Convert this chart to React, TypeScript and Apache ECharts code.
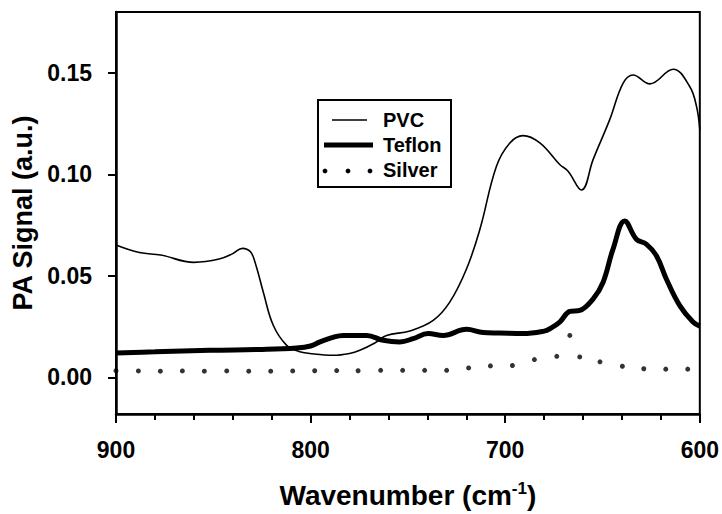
import React, { useEffect, useRef } from "react";
import * as echarts from "echarts";

const FONT = 'Arial, "Liberation Sans", sans-serif';

// Y axis tick labels
const yTicks = [0, 0.05, 0.1, 0.15];

const pvcWavenumber = [
  900, 888, 877, 860, 847, 840, 835, 831, 828.6, 824.3, 819.2, 812.3, 806, 800.4,
  788.4, 780, 774.7, 767, 761, 749, 737, 728.5, 719.9, 713, 704.5, 697.6, 690.8,
  682.2, 672, 667.7, 660.8, 654.8, 646.3, 639.4, 634.3, 625.7, 613.7, 605.2, 601.7, 600,
];
const pvcSignal = [
  0.0652, 0.0615, 0.0603, 0.0567, 0.0583, 0.061, 0.0636, 0.062, 0.0569, 0.042, 0.0257,
  0.0158, 0.0128, 0.0118, 0.0109, 0.0118, 0.0134, 0.017, 0.0207, 0.0229, 0.0281, 0.0371,
  0.0534, 0.073, 0.104, 0.1155, 0.1191, 0.1155, 0.1049, 0.1016, 0.0923, 0.1074, 0.127,
  0.145, 0.149, 0.1446, 0.1518, 0.1433, 0.1335, 0.122,
];

const teflonWavenumber = [
  900, 880, 851.7, 825, 807.2, 800, 795.2, 789, 783.3, 771.2, 762.7, 754.1, 747.3,
  739.6, 731.9, 719.9, 711.3, 702.8, 690.8, 680, 677, 672, 666.8, 661.7, 654.8, 649.7,
  644.6, 638.6, 632.6, 627.5, 622.3, 617.2, 610.3, 603.5, 600,
];
const teflonSignal = [
  0.0121, 0.0126, 0.0134, 0.0138, 0.0145, 0.0155, 0.0175, 0.0196, 0.0207, 0.0207,
  0.0183, 0.0175, 0.0191, 0.0216, 0.0207, 0.0237, 0.0221, 0.0219, 0.0216, 0.0228,
  0.024, 0.0273, 0.0325, 0.033, 0.0387, 0.0469, 0.0632, 0.0771, 0.0681, 0.0657, 0.06,
  0.0485, 0.0354, 0.0273, 0.0253,
];

const silverWavenumber = [
  900, 888.5, 877.2, 865.9, 854.6, 843.1, 831.8, 820.5, 809.2, 797.9, 786.6, 775.6,
  764.0, 752.7, 741.4, 730.1, 718.8, 707.6, 696.3, 685.0, 673.5, 666.8, 661.7, 651.3,
  639.8, 628.8, 617.5, 606.2,
];
const silverSignal = [
  0.0033, 0.0032, 0.0031, 0.0032, 0.0031, 0.0032, 0.0031, 0.0031, 0.0032, 0.0033,
  0.0034, 0.0033, 0.0035, 0.0035, 0.0035, 0.0035, 0.0047, 0.0057, 0.0059, 0.0088,
  0.0104, 0.0207, 0.0101, 0.0077, 0.0055, 0.0043, 0.0041, 0.0041,
];

const seriesNames = ["PVC", "Teflon", "Silver"];

const zip = (xs: number[], ys: number[]) => xs.map((x, i) => [x, ys[i]]);

export default function App() {
  const ref = useRef<HTMLDivElement>(null);
  useEffect(() => {
    if (!ref.current) return;
    const chart = echarts.init(ref.current, null, { renderer: "svg" });
    const labelStyle = { color: "#000", fontFamily: FONT, fontWeight: "bold" as const };
    chart.setOption({
      animation: false,
      backgroundColor: "#fff",
      grid: {
        left: 116,
        right: 22,
        top: 12,
        bottom: 98,
        show: true,
        borderColor: "#000",
        borderWidth: 2,
        backgroundColor: "transparent",
      },
      xAxis: {
        type: "value",
        inverse: true,
        min: 600,
        max: 900,
        interval: 100,
        axisLine: { show: true, onZero: false, lineStyle: { color: "#000", width: 2.5 } },
        axisTick: { show: true, inside: false, length: 9, lineStyle: { color: "#000", width: 2 } },
        minorTick: { show: true, splitNumber: 5, length: 6, lineStyle: { color: "#000", width: 2 } },
        splitLine: { show: false },
        axisLabel: {
          ...labelStyle,
          fontSize: 23,
          margin: 24,
          formatter: (v: number) => String(v),
        },
        name: "{a|Wavenumber (cm}{s|-1}{a|)}",
        nameLocation: "middle",
        nameGap: 66,
        nameTextStyle: {
          rich: {
            a: { fontSize: 28, fontWeight: "bold", fontFamily: FONT, color: "#000", lineHeight: 30 },
            s: {
              fontSize: 17,
              fontWeight: "bold",
              fontFamily: FONT,
              color: "#000",
              lineHeight: 14,
              verticalAlign: "top",
            },
          },
        },
      },
      yAxis: {
        type: "value",
        min: -0.018,
        max: 0.18,
        axisLine: { show: true, onZero: false, lineStyle: { color: "#000", width: 2.5 } },
        axisTick: {
          show: true,
          inside: false,
          length: 8,
          customValues: yTicks,
          lineStyle: { color: "#000", width: 2 },
        },
        splitLine: { show: false },
        axisLabel: {
          ...labelStyle,
          fontSize: 23,
          margin: 24,
          customValues: yTicks,
          formatter: (v: number) => v.toFixed(2),
        },
        name: "PA Signal (a.u.)",
        nameLocation: "middle",
        nameGap: 78,
        nameTextStyle: { ...labelStyle, fontSize: 27 },
      },
      series: [
        {
          name: seriesNames[0],
          type: "line",
          data: zip(pvcWavenumber, pvcSignal),
          smooth: 0.4,
          showSymbol: false,
          lineStyle: { color: "#000", width: 1.6 },
        },
        {
          name: seriesNames[1],
          type: "line",
          data: zip(teflonWavenumber, teflonSignal),
          smooth: 0.4,
          showSymbol: false,
          lineStyle: { color: "#000", width: 5 },
        },
        {
          name: seriesNames[2],
          type: "scatter",
          data: zip(silverWavenumber, silverSignal),
          symbol: "circle",
          symbolSize: 5,
          itemStyle: { color: "#000" },
        },
      ],
      graphic: [
        {
          type: "group",
          children: [
            {
              type: "rect",
              shape: { x: 318, y: 100, width: 133, height: 87 },
              style: { fill: "#fff", stroke: "#000", lineWidth: 2 },
            },
            {
              type: "line",
              shape: { x1: 332, y1: 120, x2: 367, y2: 120 },
              style: { stroke: "#000", lineWidth: 1.6 },
            },
            {
              type: "line",
              shape: { x1: 324, y1: 145, x2: 373, y2: 145 },
              style: { stroke: "#000", lineWidth: 5 },
            },
            { type: "circle", shape: { cx: 325, cy: 171, r: 2.4 }, style: { fill: "#000" } },
            { type: "circle", shape: { cx: 348, cy: 171, r: 2.4 }, style: { fill: "#000" } },
            { type: "circle", shape: { cx: 370, cy: 171, r: 2.4 }, style: { fill: "#000" } },
            ...seriesNames.map((n, i) => ({
              type: "text",
              x: 383,
              y: 120 + i * 25,
              style: {
                text: n,
                fill: "#000",
                font: `bold 20px ${FONT}`,
                verticalAlign: "middle",
              },
            })),
          ],
        },
      ],
    });
    return () => chart.dispose();
  }, []);
  return (
    <div
      ref={ref}
      style={{ position: "absolute", left: 0, top: 0, width: 722, height: 514, background: "#fff" }}
    />
  );
}
